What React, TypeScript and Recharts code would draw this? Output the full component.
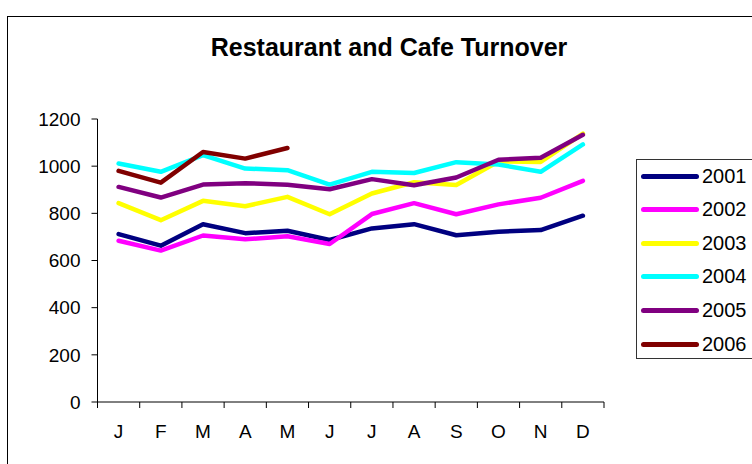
import React from "react";
import { LineChart, Line, XAxis, YAxis, Legend } from "recharts";

const months = ["J", "F", "M", "A", "M", "J", "J", "A", "S", "O", "N", "D"];
const years = ["2001", "2002", "2003", "2004", "2005", "2006"];
const colors = ["#000080", "#FF00FF", "#FFFF00", "#00FFFF", "#800080", "#800000"];

const t2001 = [712, 663, 754, 716, 726, 687, 736, 754, 707, 722, 729, 790];
const t2002 = [684, 642, 706, 690, 703, 670, 797, 843, 796, 838, 866, 938];
const t2003 = [843, 771, 853, 830, 870, 796, 884, 932, 920, 1020, 1018, 1138];
const t2004 = [1011, 976, 1047, 990, 983, 922, 976, 971, 1017, 1007, 976, 1092];
const t2005 = [912, 867, 922, 928, 921, 902, 945, 919, 952, 1027, 1036, 1133];
const t2006 = [980, 930, 1060, 1032, 1077];

const yTicks = [0, 200, 400, 600, 800, 1000, 1200];

const series = [t2001, t2002, t2003, t2004, t2005, t2006];

const data = months.map((m, i) => {
  const row: Record<string, number | string | undefined> = { x: i + 0.5, month: m };
  years.forEach((y, k) => {
    row[y] = series[k][i];
  });
  return row;
});

// ticks at every boundary (marks) and every centre (labels)
const xTicks: number[] = [];
for (let i = 0; i <= 24; i++) xTicks.push(i / 2);

const font = "'Liberation Sans', Arial, sans-serif";

const MonthTick = (props: any) => {
  const { x, y, payload } = props;
  const v = payload.value as number;
  if (Number.isInteger(v)) {
    return <line x1={x} x2={x} y1={y} y2={y + 6} stroke="#000" strokeWidth={1} />;
  }
  const idx = Math.floor(v);
  return (
    <text x={x} y={y + 36} textAnchor="middle" fontSize={19} fontFamily={font} fill="#000">
      {months[idx]}
    </text>
  );
};

const LegendBox = () => (
  <div
    style={{
      position: "absolute",
      left: 636,
      top: 159,
      width: 140,
      height: 200,
      border: "1.5px solid #333",
      background: "#fff",
      boxSizing: "border-box",
      fontFamily: font,
    }}
  >
    {years.map((y, k) => (
      <div
        key={y}
        style={{ position: "absolute", left: 4, top: 4 + k * 33.6, height: 24, display: "flex", alignItems: "center" }}
      >
        <div style={{ width: 58, height: 5, borderRadius: 3, background: colors[k] }} />
        <span style={{ marginLeft: 3, fontSize: 20, color: "#000" }}>{y}</span>
      </div>
    ))}
  </div>
);

export default function App() {
  return (
    <div style={{ position: "absolute", left: 0, top: 0, width: 752, height: 464, overflow: "hidden", background: "#fff" }}>
      <div
        style={{
          position: "absolute",
          left: 7,
          top: 16,
          width: 800,
          height: 500,
          border: "1.5px solid #000",
          boxSizing: "border-box",
        }}
      />
      <div
        style={{
          position: "absolute",
          left: 0,
          top: 33,
          width: 778,
          textAlign: "center",
          fontFamily: font,
          fontWeight: "bold",
          fontSize: 25,
          color: "#000",
        }}
      >
        Restaurant and Cafe Turnover
      </div>
      <div style={{ position: "absolute", left: 0, top: 0 }}>
        <LineChart width={752} height={464} data={data} margin={{ top: 119, right: 148, bottom: 22, left: 0 }}>
          <XAxis
            dataKey="x"
            type="number"
            domain={[0, 12]}
            ticks={xTicks}
            interval={0}
            tick={<MonthTick />}
            tickLine={false}
            tickSize={0}
            tickMargin={0}
            height={40}
            axisLine={{ stroke: "#000" }}
          />
          <YAxis
            domain={[0, 1200]}
            ticks={yTicks}
            interval={0}
            width={97.5}
            tickSize={6}
            tickMargin={11}
            tickLine={{ stroke: "#000" }}
            axisLine={{ stroke: "#000" }}
            tick={{ fill: "#000", fontSize: 19, fontFamily: font }}
          />
          {years.map((y, k) => (
            <Line
              key={y}
              dataKey={y}
              type="linear"
              stroke={colors[k]}
              strokeWidth={4.5}
              strokeLinecap="round"
              strokeLinejoin="round"
              dot={false}
              activeDot={false}
              isAnimationActive={false}
            />
          ))}
          <Legend content={() => null} />
        </LineChart>
      </div>
      <LegendBox />
    </div>
  );
}
